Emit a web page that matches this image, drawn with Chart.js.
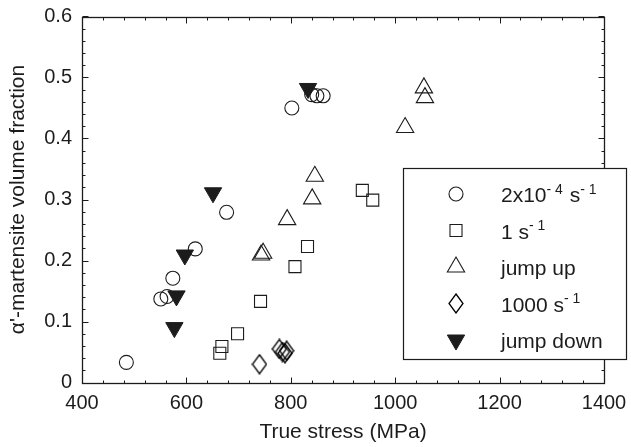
<!DOCTYPE html>
<html>
<head>
<meta charset="utf-8">
<script src="https://cdn.jsdelivr.net/npm/chart.js@4/dist/chart.umd.min.js"></script>
<style>
  html, body { margin: 0; padding: 0; background: #fff; }
  #wrap { width: 631px; height: 447px; }
</style>
</head>
<body>
<div id="wrap"><canvas id="stressChart" width="631" height="447"></canvas></div>
<script>
// axis ticks
const xTicks = [400, 600, 800, 1000, 1200, 1400];
const xTickLabels = ['400', '600', '800', '1000', '1200', '1400'];
const yTicks = [0, 0.1, 0.2, 0.3, 0.4, 0.5, 0.6];
const yTickLabels = ['0', '0.1', '0.2', '0.3', '0.4', '0.5', '0.6'];
const xMinorStep = 40;
const yMinorStep = 0.02;

// 2x10^-4 s^-1
const slowX = [485, 551, 563, 574, 617, 677, 802, 840, 850, 862];
const slowY = [0.033, 0.137, 0.141, 0.171, 0.219, 0.279, 0.450, 0.472, 0.470, 0.470];
// 1 s^-1
const oneX = [664, 668, 698, 742, 808, 832, 937, 957];
const oneY = [0.048, 0.059, 0.080, 0.133, 0.190, 0.223, 0.315, 0.299];
// jump up
const upX = [743, 747, 793, 841, 846, 1019, 1055, 1057];
const upY = [0.209, 0.212, 0.267, 0.301, 0.338, 0.418, 0.483, 0.467];
// 1000 s^-1
const fastX = [740, 778, 784, 789, 792];
const fastY = [0.030, 0.055, 0.050, 0.048, 0.052];
// jump down
const downX = [651, 597, 581, 577, 833];
const downY = [0.311, 0.209, 0.142, 0.090, 0.482];

const seriesNames = [
    [{ t: '2x10' }, { t: '- 4', sup: true }, { t: ' s' }, { t: '- 1', sup: true }],
    [{ t: '1 s' }, { t: '- 1', sup: true }],
    [{ t: 'jump up' }],
    [{ t: '1000 s' }, { t: '- 1', sup: true }],
    [{ t: 'jump down' }]
];
const yTitle = 'α\'-martensite volume fraction';

const ink = '#1c1c1c';
const fontFam = '"Liberation Sans", Arial, Helvetica, sans-serif';

function toPoints(xs, ys) {
    return xs.map((x, i) => ({ x: x, y: ys[i] }));
}

// taller-than-wide diamond marker
function makeDiamond() {
    const c = document.createElement('canvas');
    c.width = 16; c.height = 21;
    const g = c.getContext('2d');
    g.strokeStyle = '#000';
    g.lineWidth = 1.3;
    g.beginPath();
    g.moveTo(8, 1); g.lineTo(15, 10.5); g.lineTo(8, 20); g.lineTo(1, 10.5);
    g.closePath();
    g.stroke();
    return c;
}
const diamondImg = makeDiamond();

const hollow = 'rgba(255,255,255,0)';

const datasets = [
    { label: 'slow', data: toPoints(slowX, slowY), pointStyle: 'circle', pointRadius: 7,
      borderColor: ink, backgroundColor: hollow, borderWidth: 1.1 },
    { label: 'one', data: toPoints(oneX, oneY), pointStyle: 'rect', pointRadius: 8.5,
      borderColor: ink, backgroundColor: hollow, borderWidth: 1.1 },
    { label: 'up', data: toPoints(upX, upY), pointStyle: 'triangle', pointRadius: 10,
      borderColor: ink, backgroundColor: hollow, borderWidth: 1.1 },
    { label: 'fast', data: toPoints(fastX, fastY), pointStyle: diamondImg, pointRadius: 8,
      borderColor: ink, backgroundColor: hollow, borderWidth: 1.1 },
    { label: 'down', data: toPoints(downX, downY), pointStyle: 'triangle', rotation: 180, pointRadius: 10,
      borderColor: ink, backgroundColor: ink, borderWidth: 1 }
];

// frame + inward ticks on all four sides, like the original figure
const framePlugin = {
    id: 'frame',
    afterDatasetsDraw(chart) {
        const ctx = chart.ctx;
        const a = chart.chartArea;
        const xs = chart.scales.x, ys = chart.scales.y;
        ctx.save();
        ctx.strokeStyle = ink;
        ctx.lineWidth = 1;
        const L = Math.round(a.left) + 0.5, R = Math.round(a.right) + 0.5;
        const T = Math.round(a.top) + 0.5, B = Math.round(a.bottom) + 0.5;
        ctx.beginPath();
        for (let v = xTicks[0]; v <= xTicks[xTicks.length - 1] + 0.001; v += xMinorStep) {
            const major = xTicks.some(t => Math.abs(t - v) < 0.001);
            const len = major ? 6 : 3;
            const px = Math.round(xs.getPixelForValue(v)) + 0.5;
            ctx.moveTo(px, B); ctx.lineTo(px, B - len);
            ctx.moveTo(px, T); ctx.lineTo(px, T + len);
        }
        for (let v = yTicks[0]; v <= yTicks[yTicks.length - 1] + 0.0001; v += yMinorStep) {
            const major = yTicks.some(t => Math.abs(t - v) < 0.0001);
            const len = major ? 6 : 3;
            const py = Math.round(ys.getPixelForValue(v)) + 0.5;
            ctx.moveTo(L, py); ctx.lineTo(L + len, py);
            ctx.moveTo(R, py); ctx.lineTo(R - len, py);
        }
        ctx.stroke();
        ctx.lineWidth = 1.3;
        ctx.strokeRect(L, T, R - L, B - T);

        // y title, centred on the plot height
        ctx.translate(18, (a.top + a.bottom) / 2);
        ctx.rotate(-Math.PI / 2);
        ctx.fillStyle = ink;
        ctx.font = '21px ' + fontFam;
        ctx.textAlign = 'center';
        ctx.textBaseline = 'middle';
        ctx.fillText(yTitle, 0, 0);
        ctx.restore();
    },
    afterDraw(chart) {
        // legend box, sits over the right edge of the axes
        const ctx = chart.ctx;
        const box = { left: 403.5, top: 168.5, right: 626.5, bottom: 359.5 };
        const markX = 456, textX = 501;
        ctx.save();
        ctx.fillStyle = '#fff';
        ctx.fillRect(box.left, box.top, box.right - box.left, box.bottom - box.top);
        ctx.strokeStyle = ink;
        ctx.lineWidth = 1.2;
        ctx.strokeRect(box.left, box.top, box.right - box.left, box.bottom - box.top);

        chart.data.datasets.forEach((ds, i) => {
            const y = 194 + i * 36.5;
            ctx.strokeStyle = ds.borderColor;
            ctx.fillStyle = ds.backgroundColor;
            ctx.lineWidth = ds.borderWidth;
            Chart.helpers.drawPoint(ctx, {
                pointStyle: ds.pointStyle,
                radius: ds.pointRadius,
                rotation: ds.rotation || 0,
                borderWidth: ds.borderWidth
            }, markX, y);

            // label with superscripts
            let x = textX;
            const base = y + 8;
            ctx.fillStyle = ink;
            ctx.textBaseline = 'alphabetic';
            ctx.textAlign = 'left';
            seriesNames[i].forEach(seg => {
                ctx.font = (seg.sup ? '14px ' : '21px ') + fontFam;
                ctx.fillText(seg.t, x, seg.sup ? base - 8.5 : base);
                x += ctx.measureText(seg.t).width + (seg.sup ? 1 : 0);
            });
        });
        ctx.restore();
    }
};

const ctx = document.getElementById('stressChart').getContext('2d');
const stressChart = new Chart(ctx, {
    type: 'scatter',
    data: { datasets: datasets },
    options: {
        responsive: false,
        animation: false,
        layout: { padding: { left: 0, right: 27, top: 16.5, bottom: 0 } },
        plugins: {
            legend: { display: false },
            tooltip: { enabled: false }
        },
        scales: {
            x: {
                type: 'linear',
                min: 400,
                max: 1400,
                afterBuildTicks: scale => { scale.ticks = xTicks.map(v => ({ value: v })); },
                afterFit: scale => {
                    scale.height = 64.5;
                    scale.paddingLeft = 0;
                    scale.paddingRight = 0;
                },
                grid: { display: false, drawTicks: false },
                border: { display: false },
                ticks: {
                    padding: 9,
                    color: ink,
                    font: { family: fontFam, size: 20 },
                    maxRotation: 0,
                    callback: (v, i) => xTickLabels[i]
                },
                title: {
                    display: true,
                    text: 'True stress (MPa)',
                    color: ink,
                    font: { family: fontFam, size: 21 },
                    padding: { top: 0, bottom: 2 }
                }
            },
            y: {
                type: 'linear',
                min: 0,
                max: 0.6,
                afterBuildTicks: scale => { scale.ticks = yTicks.map(v => ({ value: v })); },
                afterFit: scale => {
                    scale.width = 82;
                    scale.paddingTop = 0;
                    scale.paddingBottom = 0;
                },
                grid: { display: false, drawTicks: false },
                border: { display: false },
                ticks: {
                    padding: 10,
                    color: ink,
                    font: { family: fontFam, size: 20 },
                    callback: (v, i) => yTickLabels[i]
                },
                title: { display: false }
            }
        }
    },
    plugins: [framePlugin]
});
</script>
</body>
</html>
